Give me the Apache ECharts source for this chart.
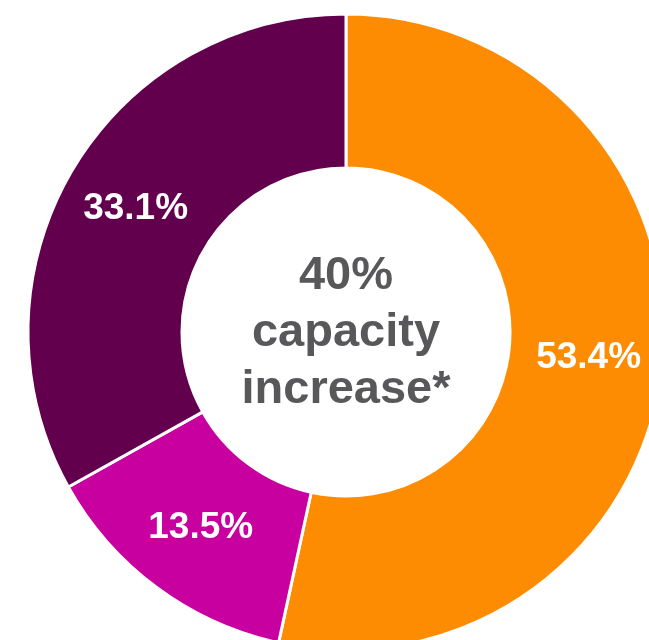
<!DOCTYPE html>
<html>
<head>
<meta charset="utf-8">
<script src="https://cdn.jsdelivr.net/npm/echarts@6/dist/echarts.min.js"></script>
<style>
  html, body { margin: 0; padding: 0; background: #fff; }
  #pie { width: 649px; height: 640px; }
</style>
</head>
<body>
<div id="pie"></div>
<script>
// slices, clockwise from 12 o'clock
var names = ['A', 'B', 'C'];
var shares = [53.4, 13.5, 33.1];
var colors = ['#fe8c02', '#c8009f', '#63004e'];
var centerLines = ['40%', 'capacity', 'increase*'];

var pie = echarts.init(document.getElementById('pie'));

var data = [];
for (var i = 0; i < names.length; i++) {
    data.push({name: names[i], value: shares[i], itemStyle: {color: colors[i]}});
}

pie.setOption({
    animation: false,
    graphic: [{
        type: 'text',
        x: 346,
        y: 333,
        style: {
            text: centerLines.join('\n'),
            align: 'center',
            verticalAlign: 'middle',
            fill: '#58585a',
            font: 'bold 47px "Liberation Sans", Arial, sans-serif',
            lineHeight: 57
        }
    }],
    series: [
        {
            type: 'pie',
            center: [346, 332],
            radius: [164, 318],
            startAngle: 90,
            clockwise: true,
            avoidLabelOverlap: false,
            itemStyle: {
                borderColor: '#ffffff',
                borderWidth: 3
            },
            label: {
                show: true,
                position: 'inside',
                formatter: function (p) { return p.value.toFixed(1) + '%'; },
                color: '#ffffff',
                fontSize: 37,
                fontWeight: 'bold',
                fontFamily: '"Liberation Sans", Arial, sans-serif'
            },
            labelLine: {show: false},
            emphasis: {disabled: true},
            data: data
        }
    ]
});
</script>
</body>
</html>
